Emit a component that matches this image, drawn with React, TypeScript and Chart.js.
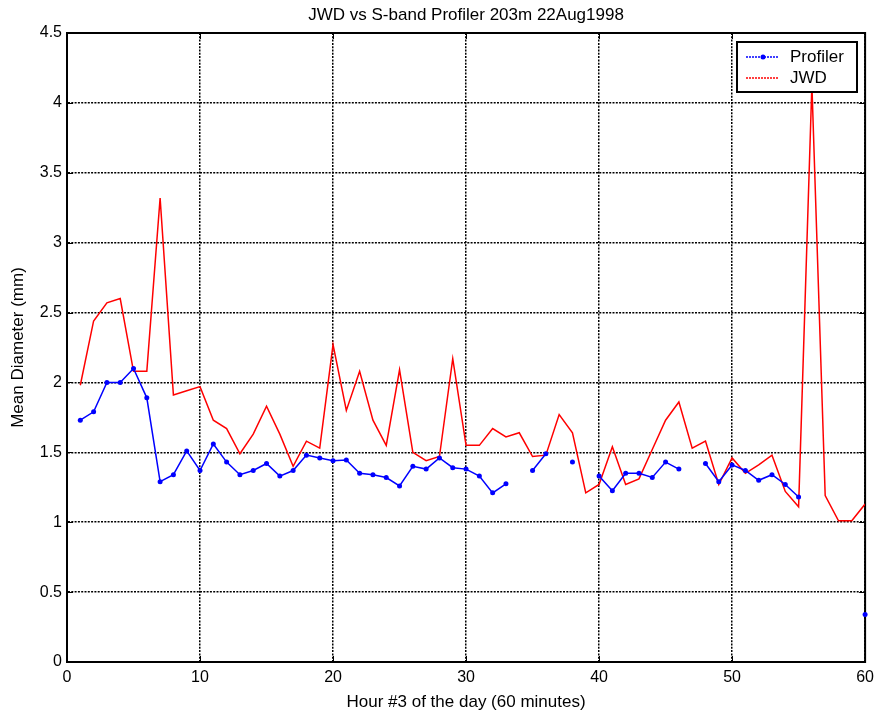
import React, { useEffect, useRef } from "react";
import { Chart, registerables } from "chart.js";

Chart.register(...registerables);

const TITLE = "JWD vs S-band Profiler 203m 22Aug1998";
const X_LABEL = "Hour #3 of the day (60 minutes)";
const Y_LABEL = "Mean Diameter (mm)";

const hours = [
  1, 2, 3, 4, 5, 6, 7, 8, 9, 10, 11, 12, 13, 14, 15, 16, 17, 18, 19, 20,
  21, 22, 23, 24, 25, 26, 27, 28, 29, 30, 31, 32, 33, 34, 35, 36, 37, 38, 39, 40,
  41, 42, 43, 44, 45, 46, 47, 48, 49, 50, 51, 52, 53, 54, 55, 56, 57, 58, 59, 60,
];

const profiler: (number | null)[] = [
  1.73, 1.79, 2.0, 2.0, 2.1, 1.89, 1.29, 1.34, 1.51, 1.37,
  1.56, 1.43, 1.34, 1.37, 1.42, 1.33, 1.37, 1.48, 1.46, 1.44,
  1.445, 1.35, 1.34, 1.32, 1.26, 1.4, 1.38, 1.46, 1.39, 1.38,
  1.33, 1.21, 1.275, null, 1.37, 1.49, null, 1.43, null, 1.33,
  1.225, 1.35, 1.35, 1.32, 1.43, 1.38, null, 1.42, 1.29, 1.41,
  1.37, 1.3, 1.34, 1.27, 1.18, null, null, null, null, 0.34,
];

const jwd: number[] = [
  1.98, 2.44, 2.57, 2.6, 2.08, 2.08, 3.32, 1.91, 1.94, 1.97,
  1.73, 1.67, 1.49, 1.63, 1.83, 1.63, 1.4, 1.58, 1.53, 2.27,
  1.8, 2.08, 1.73, 1.55, 2.09, 1.5, 1.44, 1.47, 2.17, 1.55,
  1.55, 1.67, 1.61, 1.64, 1.47, 1.48, 1.77, 1.64, 1.21, 1.27,
  1.54, 1.27, 1.31, 1.52, 1.73, 1.86, 1.53, 1.58, 1.27, 1.46,
  1.35, 1.41, 1.48, 1.22, 1.11, 4.13, 1.19, 1.01, 1.01, 1.13,
];

const X_MIN = 0;
const X_MAX = 60;
const X_STEP = 10;
const Y_MIN = 0;
const Y_MAX = 4.5;
const Y_STEP = 0.5;

const BLUE = "#0000ff";
const RED = "#ff0000";
const FONT = "'Liberation Sans', Arial, sans-serif";

const framePlugin = {
  id: "matlabFrame",
  beforeDatasetsDraw(chart: any) {
    const { ctx, chartArea: a, scales } = chart;
    ctx.save();
    ctx.strokeStyle = "#000";
    ctx.lineWidth = 1;
    const tl = 6;
    ctx.beginPath();
    for (const t of scales.x.ticks) {
      const px = Math.round(scales.x.getPixelForValue(t.value)) + 0.5;
      ctx.moveTo(px, a.bottom);
      ctx.lineTo(px, a.bottom - tl);
      ctx.moveTo(px, a.top);
      ctx.lineTo(px, a.top + tl);
    }
    for (const t of scales.y.ticks) {
      const py = Math.round(scales.y.getPixelForValue(t.value)) + 0.5;
      ctx.moveTo(a.left, py);
      ctx.lineTo(a.left + tl, py);
      ctx.moveTo(a.right, py);
      ctx.lineTo(a.right - tl, py);
    }
    ctx.stroke();
    ctx.lineWidth = 2;
    ctx.strokeRect(a.left, a.top, a.right - a.left, a.bottom - a.top);
    ctx.restore();
  },
  afterDraw(chart: any) {
    const { ctx, chartArea: a } = chart;
    ctx.save();
    ctx.fillStyle = "#000";
    ctx.font = `17px ${FONT}`;
    ctx.textAlign = "center";
    ctx.textBaseline = "middle";
    ctx.fillText(TITLE, (a.left + a.right) / 2, 15);

    const bx = 737, by = 42, bw = 120, bh = 50;
    ctx.fillStyle = "#fff";
    ctx.fillRect(bx, by, bw, bh);
    ctx.strokeStyle = "#000";
    ctx.lineWidth = 2;
    ctx.strokeRect(bx, by, bw, bh);
    const ds = chart.data.datasets;
    const rows = [57, 78];
    ds.forEach((d: any, i: number) => {
      const y = rows[i];
      ctx.strokeStyle = d.borderColor;
      ctx.lineWidth = 1.5;
      ctx.setLineDash([2, 1]);
      ctx.beginPath();
      ctx.moveTo(746, y);
      ctx.lineTo(779, y);
      ctx.stroke();
      ctx.setLineDash([]);
      if (d.pointRadius > 0) {
        ctx.fillStyle = d.borderColor;
        ctx.beginPath();
        ctx.arc(763, y, 2.5, 0, Math.PI * 2);
        ctx.fill();
      }
      ctx.fillStyle = "#000";
      ctx.font = `17px ${FONT}`;
      ctx.textAlign = "left";
      ctx.textBaseline = "middle";
      ctx.fillText(d.label, 790, y);
    });
    ctx.restore();
  },
};

export default function App() {
  const ref = useRef<HTMLCanvasElement | null>(null);

  useEffect(() => {
    document.body.style.margin = "0";
    const canvas = ref.current;
    if (!canvas) return;
    const chart = new Chart(canvas, {
      type: "line",
      data: {
        datasets: [
          {
            label: "Profiler",
            data: hours.map((h, i) => ({ x: h, y: profiler[i] })),
            borderColor: BLUE,
            backgroundColor: BLUE,
            borderWidth: 1.5,
            pointRadius: 2.5,
            pointBorderWidth: 0,
            pointBackgroundColor: BLUE,
            spanGaps: false,
            fill: false,
            clip: false,
          },
          {
            label: "JWD",
            data: hours.map((h, i) => ({ x: h, y: jwd[i] })),
            borderColor: RED,
            backgroundColor: RED,
            borderWidth: 1.5,
            pointRadius: 0,
            fill: false,
          },
        ],
      },
      options: {
        responsive: false,
        animation: false,
        layout: { padding: { top: 33, right: 14, left: 0, bottom: 0 } },
        plugins: {
          legend: { display: false },
          title: { display: false },
          tooltip: { enabled: false },
        },
        scales: {
          x: {
            type: "linear",
            min: X_MIN,
            max: X_MAX,
            ticks: {
              stepSize: X_STEP,
              color: "#000",
              font: { size: 16, family: FONT },
              padding: 6,
              maxRotation: 0,
              callback: (v: any) => String(+v),
            },
            grid: { color: "#000", lineWidth: 1.5, drawTicks: false },
            border: { display: true, color: "#000", width: 2, dash: [2, 1.3] },
            title: {
              display: true,
              text: X_LABEL,
              color: "#000",
              font: { size: 17, family: FONT },
              padding: { top: 0, bottom: 4 },
            },
            afterFit: (s: any) => {
              s.height = 55;
            },
          },
          y: {
            type: "linear",
            min: Y_MIN,
            max: Y_MAX,
            ticks: {
              stepSize: Y_STEP,
              color: "#000",
              font: { size: 16, family: FONT },
              padding: 5,
              callback: (v: any) => String(+(+v).toFixed(2)),
            },
            grid: { color: "#000", lineWidth: 1.5, drawTicks: false },
            border: { display: true, color: "#000", width: 2, dash: [2, 1.3] },
            title: {
              display: true,
              text: Y_LABEL,
              color: "#000",
              font: { size: 17, family: FONT },
              padding: { top: 8, bottom: 0 },
            },
            afterFit: (s: any) => {
              s.width = 67;
            },
          },
        },
      },
      plugins: [framePlugin],
    });
    return () => chart.destroy();
  }, []);

  return (
    <canvas
      ref={ref}
      width={880}
      height={717}
      style={{ display: "block", width: 880, height: 717 }}
    />
  );
}
